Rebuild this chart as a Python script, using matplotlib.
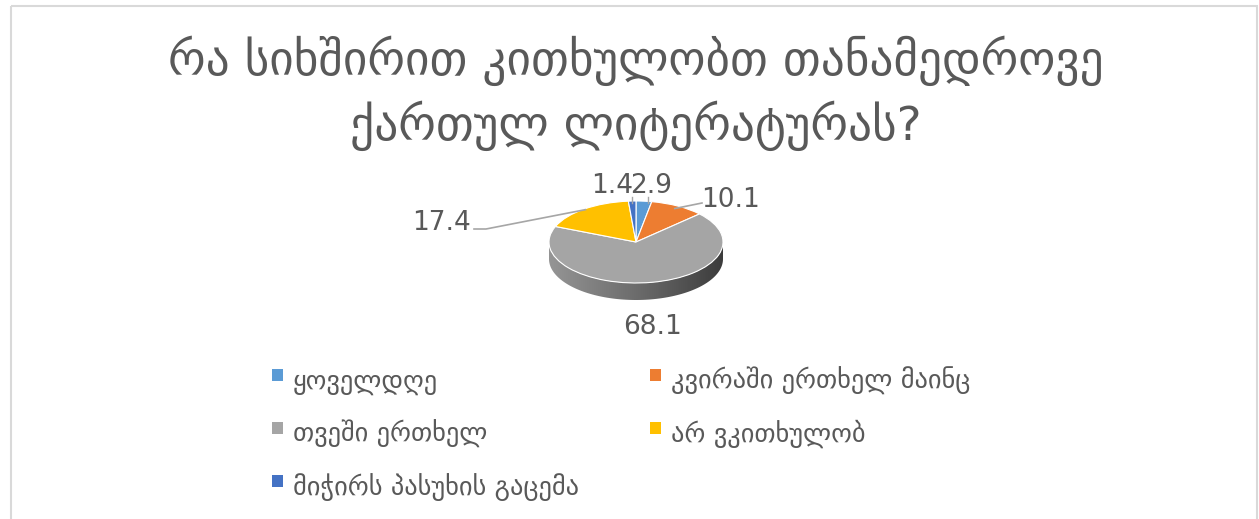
import numpy as np
import matplotlib
matplotlib.use("Agg")
import matplotlib.pyplot as plt
from matplotlib.patches import Wedge, Polygon, Rectangle
from matplotlib.transforms import Affine2D
from matplotlib.colors import LinearSegmentedColormap

plt.rcParams['font.family'] = ['DejaVu Sans']

# data
title_lines = ["რა სიხშირით კითხულობთ თანამედროვე", "ქართულ ლიტერატურას?"]
categories = ["ყოველდღე", "კვირაში ერთხელ მაინც", "თვეში ერთხელ",
              "არ ვკითხულობ", "მიჭირს პასუხის გაცემა"]
values = [2.9, 10.1, 68.1, 17.4, 1.4]
colors = ["#5B9BD5", "#ED7D31", "#A5A5A5", "#FFC000", "#4472C4"]

text_color = "#595959"

fig = plt.figure(figsize=(12.59, 5.19), dpi=100)
ax = fig.add_axes([0, 0, 1, 1])

# chart border
ax.add_patch(Rectangle((11, 6), 1246, 530, fill=False, edgecolor="#d9d9d9", lw=1.5, zorder=0))

# title, two lines
for line, base in zip(title_lines, [75, 140]):
    ax.text(636, base, line, ha="center", va="baseline", fontsize=34, color=text_color)

# pie geometry (pixels)
cx, cy, rx, ry, depth = 636, 242, 87, 41, 17

# side of the 3d pie (front half, all gray)
t = np.radians(np.linspace(180, 360, 100))
top = np.column_stack([cx + rx * np.cos(t), cy - ry * np.sin(t)])
bot = top[::-1] + [0, depth]
side = Polygon(np.vstack([top, bot]), closed=True, facecolor="none", edgecolor="none")
ax.add_patch(side)
cmap = LinearSegmentedColormap.from_list("side", ["#959595", "#6c6c6c", "#3c3c3c"])
grad = np.linspace(0, 1, 256).reshape(1, -1)
im = ax.imshow(grad, cmap=cmap, extent=[cx - rx, cx + rx, cy + ry + depth, cy - ry],
               aspect="auto", zorder=1)
im.set_clip_path(side)

# top face
tr = Affine2D().scale(rx, -ry).translate(cx, cy) + ax.transData
fracs = np.array(values) / sum(values)
start = 90.0
mids = []
for f, c in zip(fracs, colors):
    end = start - f * 360
    ax.add_patch(Wedge((0, 0), 1, end, start, facecolor=c, edgecolor="white",
                       lw=0.8, transform=tr, zorder=2))
    mids.append((start + end) / 2)
    start = end

# data labels (positions are layout, baseline y)
label_xy = [(651, 193), (731, 207), (653, 334), (442, 230), (612, 193)]
for v, (lx, ly) in zip(values, label_xy):
    ax.text(lx, ly, f"{v}", ha="center", va="baseline", fontsize=19,
            color=text_color, zorder=4)

# leader lines
lead_col = "#a6a6a6"
ang = np.radians(mids[1])
ax.plot([cx + 0.93 * rx * np.cos(ang), 702], [cy - 0.93 * ry * np.sin(ang), 203],
        color=lead_col, lw=1.2, zorder=3)
ang = np.radians(mids[3])
ax.plot([474, 486, cx + 0.98 * rx * np.cos(ang)], [229, 229, cy - 0.98 * ry * np.sin(ang)],
        color=lead_col, lw=1.2, zorder=3)
for lx in [648, 632]:
    ax.plot([lx, lx], [197, 203], color=lead_col, lw=1, zorder=3)

# legend, row-wise in two columns
for i, (lab, c) in enumerate(zip(categories, colors)):
    row, col = divmod(i, 2)
    x0 = 272 + col * 378
    y0 = 375 + row * 53
    ax.add_patch(Rectangle((x0, y0 - 6), 11, 12, facecolor=c, edgecolor="none"))
    ax.text(x0 + 21, y0 + 14, lab, ha="left", va="baseline", fontsize=19, color=text_color)

ax.set_xlim(0, 1259)
ax.set_ylim(519, 0)
ax.axis("off")

fig.savefig("out.png", dpi=100, facecolor="white")
